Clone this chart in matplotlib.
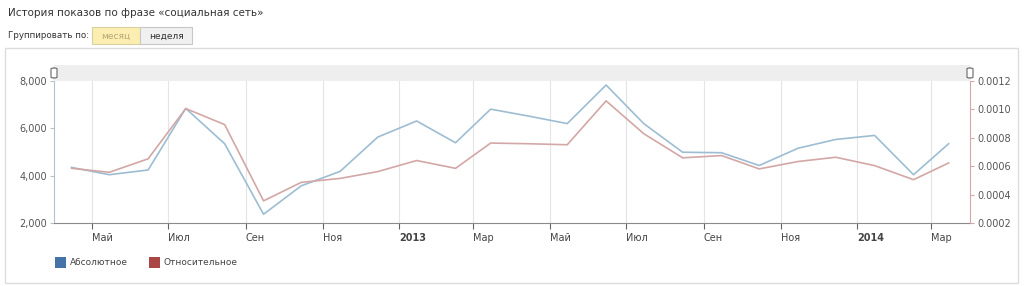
import numpy as np
import matplotlib.pyplot as plt
import matplotlib.dates as mdates
from matplotlib.patches import Rectangle, FancyBboxPatch
from datetime import date

# Data
months = ["2012-04", "2012-05", "2012-06", "2012-07", "2012-08", "2012-09",
          "2012-10", "2012-11", "2012-12", "2013-01", "2013-02", "2013-03",
          "2013-04", "2013-05", "2013-06", "2013-07", "2013-08", "2013-09",
          "2013-10", "2013-11", "2013-12", "2014-01", "2014-02", "2014-03"]
absolute = [4350, 4040, 4240, 6840, 5350, 2370, 3570, 4180, 5630, 6310, 5390, 6810,
            6510, 6200, 7830, 6200, 4990, 4970, 4430, 5160, 5530, 5700, 4040, 5350]
relative = [0.000585, 0.000557, 0.000652, 0.001006, 0.000893, 0.000356, 0.000486,
            0.000514, 0.000562, 0.000640, 0.000585, 0.000763, 0.000758, 0.000751,
            0.001060, 0.000829, 0.000659, 0.000675, 0.000581, 0.000633, 0.000663,
            0.000604, 0.000505, 0.000623]
tick_labels = ["Май", "Июл", "Сен", "Ноя", "2013", "Мар",
               "Май", "Июл", "Сен", "Ноя", "2014", "Мар"]

# points sit in the middle of each month
x = [date(int(m[:4]), int(m[5:]), 15) for m in months]
ticks = [date(2012 + (4 + 2 * i) // 12, (4 + 2 * i) % 12 + 1, 1) for i in range(12)]

W, H = 1024, 286
fig = plt.figure(figsize=(W / 100, H / 100), dpi=100)
fig.patch.set_facecolor("white")


def px(xp, yp):
    return xp / W, 1 - yp / H


# outer frame
fig.patches.append(Rectangle(px(5, 283), 1013 / W, 235 / H, transform=fig.transFigure,
                             fill=False, edgecolor="#dcdcdc", lw=1))

# header texts
fig.text(*px(8, 13), "История показов по фразе «социальная сеть»", fontsize=7.5,
         color="#333333", va="center")
fig.text(*px(8, 36), "Группировать по:", fontsize=6.3, color="#333333", va="center")
fig.patches.append(Rectangle(px(92, 44), 48 / W, 17 / H, transform=fig.transFigure,
                             facecolor="#fbeeb0", edgecolor="#d8cfa0", lw=0.8))
fig.patches.append(Rectangle(px(140, 44), 52 / W, 17 / H, transform=fig.transFigure,
                             facecolor="#f0f0f0", edgecolor="#c8c8c8", lw=0.8))
fig.text(*px(116, 36), "месяц", fontsize=6.5, color="#b8a878", va="center", ha="center")
fig.text(*px(166, 36), "неделя", fontsize=6.5, color="#333333", va="center", ha="center")

# navigator band on top of the plot
fig.patches.append(Rectangle(px(54, 81), 916 / W, 16 / H, transform=fig.transFigure,
                             facecolor="#eeeeee", edgecolor="none"))
for hx in (54, 970):
    fig.patches.append(FancyBboxPatch(px(hx - 3, 78), 6 / W, 10 / H,
                                      boxstyle="round,pad=0,rounding_size=0.003",
                                      transform=fig.transFigure, facecolor="white",
                                      edgecolor="#666666", lw=0.8))

left, right = 54 / W, 970 / W
bottom, top = 1 - 223 / H, 1 - 81 / H
ax = fig.add_axes([left, bottom, right - left, top - bottom])
ax2 = ax.twinx()

ax.plot(x, absolute, color="#9dbdd3", lw=1.2, zorder=3)
ax2.plot(x, relative, color="#d3a7a6", lw=1.2, zorder=3)

ax.set_xlim(date(2012, 4, 1), date(2014, 4, 1))
ax.set_ylim(2000, 8000)
ax2.set_ylim(0.0002, 0.0012)

ax.set_yticks([2000, 4000, 6000, 8000])
ax.set_yticklabels(["2,000", "4,000", "6,000", "8,000"])
ax2.set_yticks([0.0002, 0.0004, 0.0006, 0.0008, 0.0010, 0.0012])
ax2.set_yticklabels(["0.0002", "0.0004", "0.0006", "0.0008", "0.0010", "0.0012"])

ax.set_xticks(ticks)
ax.set_xticklabels(tick_labels)
for lab in ax.get_xticklabels():
    lab.set_horizontalalignment("left")
    if lab.get_text() in ("2013", "2014"):
        lab.set_fontweight("bold")
ax.xaxis.grid(True, color="#e4e4e4", lw=0.8)
ax.set_axisbelow(True)

for a in (ax, ax2):
    a.set_facecolor("none")
    a.spines["top"].set_visible(False)
ax.spines["right"].set_visible(False)
ax2.spines["left"].set_visible(False)
ax2.spines["bottom"].set_visible(False)
ax.spines["left"].set_color("#b4c2ce")
ax.spines["bottom"].set_color("#8a8a8a")
ax2.spines["right"].set_color("#d3a7a6")

ax.tick_params(axis="y", length=3, color="#b4c2ce", labelsize=7, labelcolor="#555555", pad=2)
ax.tick_params(axis="x", length=4, color="#666666", labelsize=7, labelcolor="#444444", pad=3)
ax2.tick_params(axis="y", length=3, color="#d3a7a6", labelsize=7, labelcolor="#555555", pad=2)

# legend
for lx, col, txt in ((55, "#4572a7", "Абсолютное"), (149, "#aa4643", "Относительное")):
    fig.patches.append(Rectangle(px(lx, 268), 11 / W, 11 / H, transform=fig.transFigure,
                                 facecolor=col, edgecolor="none"))
    fig.text(*px(lx + 15, 262.5), txt, fontsize=6.5, color="#444444", va="center")

fig.savefig("out.png", dpi=100)
